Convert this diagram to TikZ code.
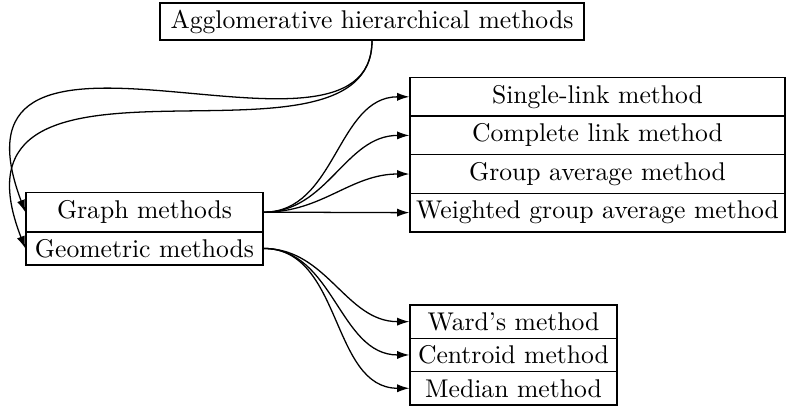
\documentclass[tikz,border=0pt]{standalone}
\usetikzlibrary{arrows.meta}
\begin{document}
\begin{tikzpicture}[x=0.39pt,y=-0.39pt,
  box/.style={draw, inner sep=0pt, line width=0.5pt},
  link/.style={-{Latex[length=4.8pt,width=3.2pt]}, line width=0.5pt}]
\useasboundingbox (0,0) rectangle (787,407);

% root
\node[box, minimum width=424*0.39pt, minimum height=37*0.39pt] (agg) at (372,21.5)
  {Agglomerative hierarchical methods};

% the two families
\node[box, minimum width=237*0.39pt, minimum height=39.4*0.39pt] (graph) at (144.5,212.2)
  {Graph methods};
\node[box, minimum width=237*0.39pt, minimum height=33.1*0.39pt] (geom) at (144.5,248.45)
  {Geometric methods};

% graph methods
\node[box, minimum width=375*0.39pt, minimum height=38.6*0.39pt] (single) at (597.5,96.8)
  {Single-link method};
\node[box, minimum width=375*0.39pt, minimum height=38.6*0.39pt] (complete) at (597.5,135.4)
  {Complete link method};
\node[box, minimum width=375*0.39pt, minimum height=38.6*0.39pt] (group) at (597.5,174.0)
  {Group average method};
\node[box, minimum width=375*0.39pt, minimum height=38.6*0.39pt] (wgroup) at (597.5,212.6)
  {Weighted group average method};

% geometric methods
\node[box, minimum width=207*0.39pt, minimum height=33.3*0.39pt] (ward) at (513.5,321.65)
  {Ward's method};
\node[box, minimum width=207*0.39pt, minimum height=33.3*0.39pt] (centroid) at (513.5,354.95)
  {Centroid method};
\node[box, minimum width=207*0.39pt, minimum height=33.3*0.39pt] (median) at (513.5,388.25)
  {Median method};

% root to families
\draw[link] (agg.south) .. controls +(0,153) and +(-92,-244) .. (graph.west);
\draw[link] (agg.south) .. controls +(0,151) and +(-92,-236) .. (geom.west);

% fans
\foreach \t in {single,complete,group,wgroup}
  \draw[link] (graph.east) to[out=0,in=180] (\t.west);
\foreach \t in {ward,centroid,median}
  \draw[link] (geom.east) to[out=0,in=180] (\t.west);
\end{tikzpicture}
\end{document}
